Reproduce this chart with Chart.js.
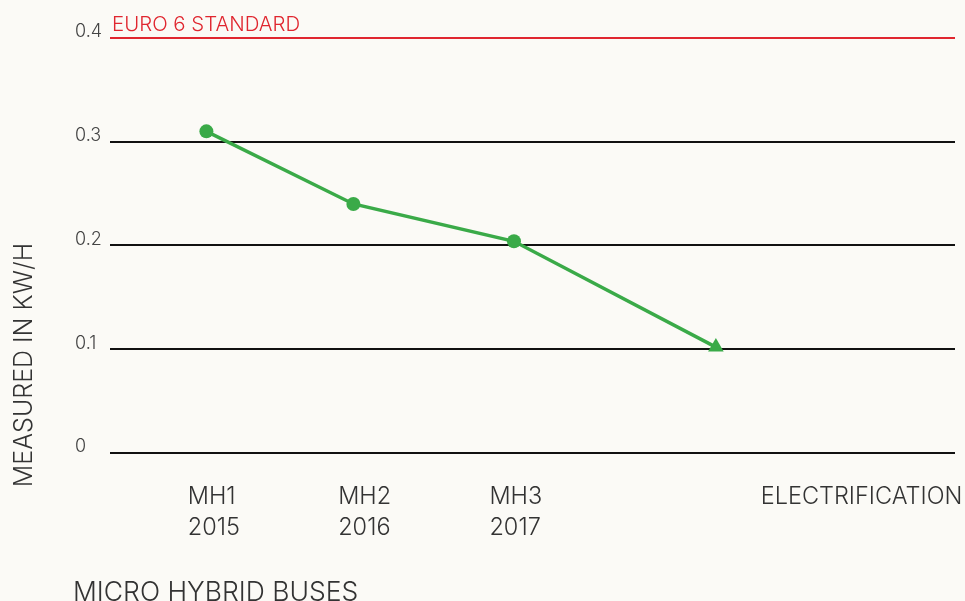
<!DOCTYPE html>
<html>
<head>
<meta charset="utf-8">
<script src="https://cdn.jsdelivr.net/npm/chart.js@4.4.1/dist/chart.umd.min.js"></script>
<style>
  html, body { margin: 0; padding: 0; background: #fbfaf6; }
  #wrap { width: 965px; height: 601px; }
</style>
</head>
<body>
<div id="wrap"><canvas id="chart" width="965" height="601"></canvas></div>
<script>
// values
const pointNames = ['MH1 2015', 'MH2 2016', 'MH3 2017', 'Electrification'];
const pointX = [1.14, 2.88, 4.78, 7.17];
const emissions = [0.31, 0.24, 0.204, 0.102];
const pointShapes = ['circle', 'circle', 'circle', 'triangle'];

const xLabels = [['MH1', '2015'], ['MH2', '2016'], ['MH3', '2017'], ['ELECTRIFICATION']];
const xLabelPos = [0.92, 2.7, 4.49, 7.7];
const yTicks = [0, 0.1, 0.2, 0.3, 0.4];
const yTickLabels = ['0', '0.1', '0.2', '0.3', '0.4'];
const euroLimit = 0.4;

const FONT = 'Inter, Roboto, sans-serif';
const GREEN = '#3aaa48';
const RED = '#e0262f';

// extra texts: euro label, axis titles
const textPlugin = {
  id: 'texts',
  afterDraw(chart) {
    const ctx = chart.ctx;
    const y = chart.scales.y;
    const area = chart.chartArea;
    ctx.save();
    ctx.font = '300 20.4px ' + FONT;
    ctx.fillStyle = RED;
    ctx.textAlign = 'left';
    ctx.textBaseline = 'alphabetic';
    ctx.fillText('EURO 6 STANDARD', area.left + 2, y.getPixelForValue(euroLimit) - 7);

    ctx.font = '300 26.5px ' + FONT;
    ctx.fillStyle = '#333';
    ctx.fillText('MICRO HYBRID BUSES', 73, 601);

    ctx.translate(32, 365);
    ctx.rotate(-Math.PI / 2);
    ctx.textAlign = 'center';
    ctx.font = '300 25px ' + FONT;
    ctx.fillText('MEASURED IN KW/H', 0, 0);
    ctx.restore();
  }
};

new Chart(document.getElementById('chart'), {
  type: 'line',
  data: {
    datasets: [{
      label: 'Emissions',
      data: pointX.map((x, i) => ({ x: x, y: emissions[i] })),
      borderColor: GREEN,
      backgroundColor: GREEN,
      borderWidth: 3.5,
      pointStyle: pointShapes,
      pointRadius: [7, 7, 7, 9],
      pointHoverRadius: [7, 7, 7, 9],
      pointBorderWidth: 0,
      tension: 0
    }]
  },
  options: {
    responsive: false,
    animation: false,
    events: [],
    layout: { padding: { left: 75, right: 10, top: 38, bottom: 37 } },
    plugins: { legend: { display: false }, tooltip: { enabled: false } },
    scales: {
      x: {
        type: 'linear',
        min: 0,
        max: 10,
        afterBuildTicks: (scale) => { scale.ticks = xLabelPos.map(v => ({ value: v })); },
        afterFit: (scale) => { scale.paddingLeft = 0; scale.paddingRight = 0; },
        ticks: {
          callback: (v, i) => xLabels[i],
          align: 'start',
          autoSkip: false,
          maxRotation: 0,
          padding: 21,
          color: '#333',
          font: { family: FONT, size: 23.5, weight: 300, lineHeight: 1.3 }
        },
        grid: { display: false },
        border: { display: false }
      },
      y: {
        min: 0,
        max: 0.4,
        afterBuildTicks: (scale) => { scale.ticks = yTicks.map(v => ({ value: v })); },
        afterFit: (scale) => { scale.paddingTop = 0; scale.paddingBottom = 0; },
        ticks: {
          callback: (v, i) => yTickLabels[i],
          crossAlign: 'far',
          padding: 4,
          labelOffset: -6,
          color: '#444',
          font: { family: FONT, size: 18, weight: 300 }
        },
        grid: {
          drawTicks: false,
          lineWidth: 2,
          color: (c) => (c.tick && c.tick.value === euroLimit ? RED : '#111')
        },
        border: { display: false }
      }
    }
  },
  plugins: [textPlugin]
});
</script>
</body>
</html>
